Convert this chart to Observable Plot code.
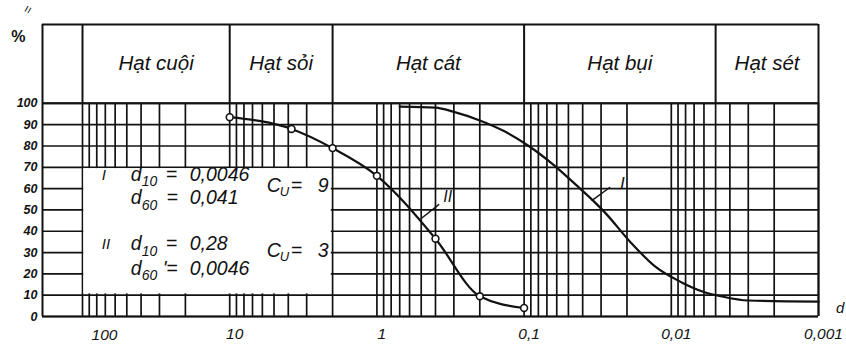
<!DOCTYPE html>
<html>
<head>
<meta charset="utf-8">
<script src="https://cdn.jsdelivr.net/npm/d3@7"></script>
<script src="https://cdn.jsdelivr.net/npm/@observablehq/plot@0.6"></script>
<style>
  html, body { margin: 0; padding: 0; background: #fff; }
  #chart svg { display: block; }
</style>
</head>
<body>
<div id="chart"></div>
<script>
// ---------- data ----------
// grain-size fractions shown in the header (boundaries in mm)
const fractionNames = ["Hạt cuội", "Hạt sỏi", "Hạt cát", "Hạt bụi", "Hạt sét"];
const fractionBounds = [100, 10, 2, 0.1, 0.005, 0.001];

// axis ticks
const xTickValues = [100, 10, 1, 0.1, 0.01, 0.001];
const xTickLabels = ["100", "10", "1", "0,1", "0,01", "0,001"];
const yTickValues = [0, 10, 20, 30, 40, 50, 60, 70, 80, 90, 100];

// curve I (fine soil) — diameter (mm) and % finer
const curveISize = [0.7, 0.4, 0.3, 0.2, 0.137, 0.093, 0.064, 0.044, 0.036, 0.028, 0.019, 0.0129, 0.0085, 0.006, 0.0046, 0.003, 0.001];
const curveIPct  = [98.5, 98, 96, 92, 87, 80, 71.5, 61.5, 56, 48.5, 35, 23.5, 16, 11.5, 9.5, 7.5, 7];

// curve II (coarse soil) — measured points
const curveIISize = [10, 3.8, 2, 1, 0.4, 0.2, 0.1];
const curveIIPct  = [93.5, 88, 79, 66, 36.5, 9.5, 4];

// characteristic values written in the box
const curveNames = ["I", "II"];
const d10Text = ["0,0046", "0,28"];
const d60Text = ["0,041", "0,0046"];
const d60Eq   = ["=", "'="];
const cuText  = ["9", "3"];

// ---------- layout (data coordinates) ----------
const LEFT_EDGE = 10 ** (2 + 40 / 147.2);   // narrow column left of 100 mm
const RIGHT_EDGE = 0.001;
const HEADER_TOP = 137;
const BOX = {x1: 100, x2: 2, y1: 10, y2: 70};
const textX = {name: 74, d: 47, cu: 5.6};
const rowY = {d10: [66.5, 34], d60: [55.5, 22.5], cu: [61.5, 31]};
const leaderI = [{x: 0.0345, y: 54.5}, {x: 0.0262, y: 60.5}];
const leaderII = [{x: 0.5, y: 46}, {x: 0.38, y: 52.5}];

const ink = "#121212";
const gridX = [100];
for (let e = 1; e >= -3; e--) for (let k = 9; k >= 1; k--) gridX.push(k * 10 ** e);

const curveI = curveISize.map((d, i) => ({d, p: curveIPct[i]}));
const curveII = curveIISize.map((d, i) => ({d, p: curveIIPct[i]}));
const rows = curveNames.map((n, i) => ({i}));

const font = "'Liberation Sans', Arial, Helvetica, sans-serif";
const T = {fill: ink, fontStyle: "italic", fontFamily: font};
const F = 19.5; // formula font size

const chart = Plot.plot({
  width: 846,
  height: 355,
  marginLeft: 42,
  marginRight: 28,
  marginTop: 24,
  marginBottom: 39,
  x: {type: "log", domain: [LEFT_EDGE, RIGHT_EDGE], axis: null},
  y: {domain: [0, HEADER_TOP], axis: null},
  style: {fontFamily: font, background: "#fff", color: ink, overflow: "visible"},
  marks: [
    // grid
    Plot.ruleY(yTickValues, {x1: LEFT_EDGE, x2: RIGHT_EDGE, stroke: ink, strokeWidth: 1.7}),
    Plot.ruleX(gridX, {y1: 0, y2: 100, stroke: ink, strokeWidth: 1.7}),
    // blank box for the characteristic values
    Plot.rect([0], {x1: BOX.x1, x2: BOX.x2, y1: BOX.y1, y2: BOX.y2, fill: "#fff", inset: 1.3}),
    // frame and header table
    Plot.ruleX([LEFT_EDGE, RIGHT_EDGE], {y1: 0, y2: HEADER_TOP, stroke: ink, strokeWidth: 2}),
    Plot.ruleX(fractionBounds.slice(0, -1), {y1: 100, y2: HEADER_TOP, stroke: ink, strokeWidth: 2}),
    Plot.ruleY([HEADER_TOP, 100, 0], {x1: LEFT_EDGE, x2: RIGHT_EDGE, stroke: ink, strokeWidth: 2}),
    Plot.text(fractionNames, {
      x: (d, i) => Math.sqrt(fractionBounds[i] * fractionBounds[i + 1]),
      y: (HEADER_TOP + 100) / 2,
      text: d => d, fontSize: 20.5, ...T
    }),
    // curves
    Plot.line(curveI, {x: "d", y: "p", curve: "monotone-x", stroke: ink, strokeWidth: 2.2}),
    Plot.line(curveII, {x: "d", y: "p", curve: "monotone-x", stroke: ink, strokeWidth: 2.2}),
    Plot.dot(curveII, {x: "d", y: "p", r: 3.4, fill: "#fff", stroke: ink, strokeWidth: 1.6}),
    // curve labels
    Plot.line(leaderI, {x: "x", y: "y", stroke: ink, strokeWidth: 1.4}),
    Plot.line(leaderII, {x: "x", y: "y", stroke: ink, strokeWidth: 1.4}),
    Plot.text(["I"], {x: 0.0215, y: 62.5, text: d => d, fontSize: 17, ...T}),
    Plot.text(["II"], {x: 0.33, y: 56, text: d => d, fontSize: 16, ...T}),
    // box text
    Plot.text(rows, {x: textX.name, y: r => rowY.d10[r.i], text: r => curveNames[r.i], textAnchor: "start", fontSize: 15, ...T}),
    Plot.text(rows, {x: textX.d, y: r => rowY.d10[r.i], text: () => "d", textAnchor: "start", fontSize: F, ...T}),
    Plot.text(rows, {x: textX.d, y: r => rowY.d10[r.i], text: () => "10", textAnchor: "start", dx: 11, dy: 7, fontSize: 14, ...T}),
    Plot.text(rows, {x: textX.d, y: r => rowY.d10[r.i], text: () => "=", textAnchor: "start", dx: 35, fontSize: F, ...T}),
    Plot.text(rows, {x: textX.d, y: r => rowY.d10[r.i], text: r => d10Text[r.i], textAnchor: "start", dx: 59, fontSize: F, ...T}),
    Plot.text(rows, {x: textX.d, y: r => rowY.d60[r.i], text: () => "d", textAnchor: "start", fontSize: F, ...T}),
    Plot.text(rows, {x: textX.d, y: r => rowY.d60[r.i], text: () => "60", textAnchor: "start", dx: 11, dy: 7, fontSize: 14, ...T}),
    Plot.text(rows, {x: textX.d, y: r => rowY.d60[r.i], text: r => d60Eq[r.i], textAnchor: "end", dx: 47, fontSize: F, ...T}),
    Plot.text(rows, {x: textX.d, y: r => rowY.d60[r.i], text: r => d60Text[r.i], textAnchor: "start", dx: 59, fontSize: F, ...T}),
    Plot.text(rows, {x: textX.cu, y: r => rowY.cu[r.i], text: () => "C", textAnchor: "start", fontSize: F, ...T}),
    Plot.text(rows, {x: textX.cu, y: r => rowY.cu[r.i], text: () => "U", textAnchor: "start", dx: 13, dy: 6, fontSize: 13, ...T}),
    Plot.text(rows, {x: textX.cu, y: r => rowY.cu[r.i], text: () => "=", textAnchor: "start", dx: 24, fontSize: F, ...T}),
    Plot.text(rows, {x: textX.cu, y: r => rowY.cu[r.i], text: r => cuText[r.i], textAnchor: "start", dx: 51, fontSize: F, ...T}),
    // axes labels
    Plot.text(yTickValues, {y: d => d, frameAnchor: "left", dx: -5, textAnchor: "end", text: d => String(d), fontSize: 12.5, fontWeight: "bold", ...T}),
    Plot.text(xTickValues.slice(0, 1), {x: d => d, y: 0, dx: 22, dy: 19, text: (d, i) => xTickLabels[i], fontSize: 15.5, ...T}),
    Plot.text(xTickValues.slice(1), {x: d => d, y: 0, dx: 5, dy: 18, text: (d, i) => xTickLabels[i + 1], fontSize: 15.5, ...T}),
    Plot.text(["%"], {x: 10 ** 2.435, y: 131, text: d => d, fontSize: 16, fill: ink, fontFamily: font, fontWeight: "bold"}),
    Plot.text(["="], {x: 10 ** 2.37, y: 144, text: d => d, fontSize: 13, rotate: -60, fill: ink, fontFamily: font}),
    Plot.text(["d"], {x: 0.00076, y: 4, text: d => d, textAnchor: "start", fontSize: 15, ...T})
  ]
});
document.getElementById("chart").appendChild(chart);
</script>
</body>
</html>
